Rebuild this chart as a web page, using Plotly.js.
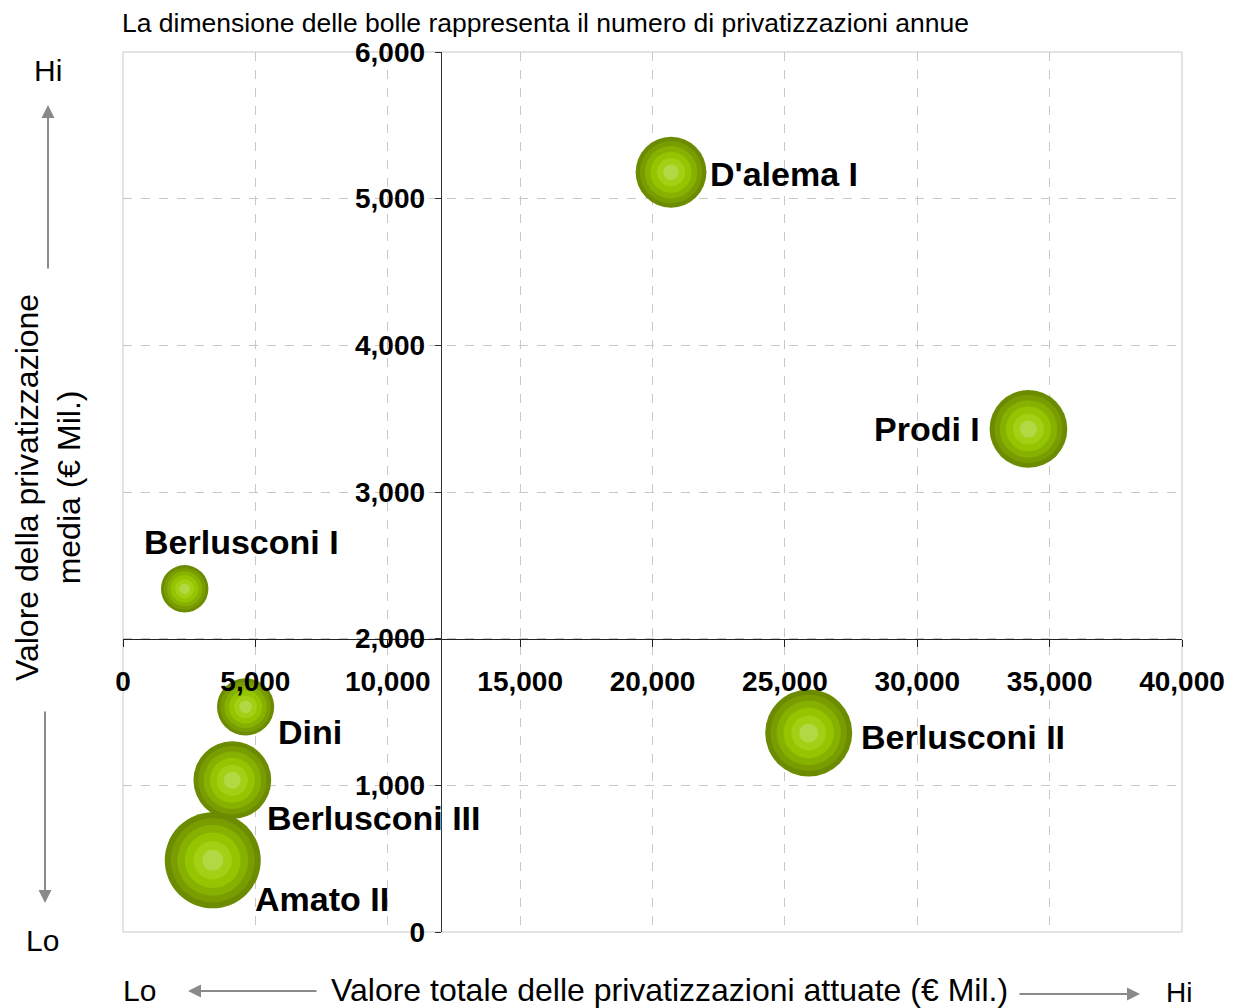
<!DOCTYPE html>
<html>
<head>
<meta charset="utf-8">
<script src="https://cdn.plot.ly/plotly-3.0.1.min.js"></script>
<style>html,body{margin:0;padding:0;background:#fff;}#chart{width:1235px;height:1008px;}</style>
</head>
<body>
<div id="chart"></div>
<script>
// ---- data ----
const governi = ["D'alema I", "Prodi I", "Berlusconi I", "Dini", "Berlusconi II", "Berlusconi III", "Amato II"];
const valoreTotale = [20700, 34200, 2330, 4630, 25900, 4130, 3390];      // € Mil.
const valoreMedio = [5180, 3430, 2340, 1535, 1357, 1035, 489];           // € Mil.
const privatizzazioniAnnue = [4.9, 5.9, 2.2, 3.2, 7.4, 5.9, 9.0];
const xTicks = [0, 5000, 10000, 15000, 20000, 25000, 30000, 35000, 40000];
const yTicks = [0, 1000, 2000, 3000, 4000, 5000, 6000];

// ---- presentation ----
const W = 1235, H = 1008;
const M = {l: 123, r: 53, t: 52, b: 76};
const PW = W - M.l - M.r, PH = H - M.t - M.b;
const px = x => (x - M.l) / PW;
const py = y => (H - M.b - y) / PH;

const layers = [
  {f: 1.00, c: '#6b8b00'},
  {f: 0.88, c: '#799d00'},
  {f: 0.74, c: '#87b100'},
  {f: 0.58, c: '#95c400'},
  {f: 0.40, c: '#a3cf14'},
  {f: 0.22, c: '#b2d944'}
];
const baseRef = 2 / 1024;
const traces = layers.map(L => ({
  type: 'scatter', mode: 'markers',
  x: valoreTotale, y: valoreMedio, text: governi,
  marker: {size: privatizzazioniAnnue, sizemode: 'area', sizeref: baseRef / (L.f * L.f),
           color: L.c, line: {width: 0}, opacity: 1},
  hoverinfo: 'text', showlegend: false
}));

// label offsets (px) relative to bubble centres
const labelPos = [
  {dx: 37, dy: -2, xa: 'left'},
  {dx: -46, dy: 0, xa: 'right'},
  {dx: -43, dy: 47, xa: 'left'},
  {dx: 30, dy: -25, xa: 'left'},
  {dx: 50, dy: -4, xa: 'left'},
  {dx: 33, dy: -38, xa: 'left'},
  {dx: 40, dy: -39, xa: 'left'}
];
const boldFont = {family: 'Liberation Sans, Arial, sans-serif', size: 34, color: '#000', weight: 700};
const annotations = governi.map((g, i) => ({
  x: valoreTotale[i], y: valoreMedio[i], xref: 'x', yref: 'y',
  text: '<b>' + g + '</b>', showarrow: false,
  xanchor: labelPos[i].xa, yanchor: 'middle',
  xshift: labelPos[i].dx, yshift: labelPos[i].dy,
  font: boldFont
}));

const axisTitleFont = {family: 'Liberation Sans, Arial, sans-serif', size: 32, color: '#000'};
const regular = {family: 'Liberation Sans, Arial, sans-serif', size: 30, color: '#000'};
const txt = (x, y, t, font, extra) => Object.assign({
  x: px(x), y: py(y), xref: 'paper', yref: 'paper', text: t, showarrow: false,
  xanchor: 'center', yanchor: 'middle', font: font
}, extra || {});
annotations.push(
  txt(48, 70, 'Hi', regular),
  txt(42, 940, 'Lo', regular),
  txt(139, 990, 'Lo', regular),
  txt(1179, 992, 'Hi', {family: 'Liberation Sans, Arial, sans-serif', size: 28, color: '#000'}),
  txt(669, 990, 'Valore totale delle privatizzazioni attuate (€ Mil.)', axisTitleFont),
  txt(48, 488, 'Valore della privatizzazione<br>media (€ Mil.)', axisTitleFont, {textangle: -90}),
  txt(120, 23, 'La dimensione delle bolle rappresenta il numero di privatizzazioni annue',
      {family: 'Liberation Sans, Arial, sans-serif', size: 26.5, color: '#000'}, {xanchor: 'left'})
);
const arrow = (hx, hy, ax, ay) => ({
  x: px(hx), y: py(hy), xref: 'paper', yref: 'paper', text: '', showarrow: true,
  ax: ax, ay: ay, arrowhead: 2, arrowsize: 1.3, arrowwidth: 2, arrowcolor: '#8a8a8a'
});
annotations.push(
  arrow(48, 105, 0, 165),
  arrow(45, 903, 0, -193),
  arrow(188, 991, 130, 0),
  arrow(1140, 994, -122, 0)
);

const tickFont = {family: 'Liberation Sans, Arial, sans-serif', size: 28, color: '#000', weight: 700};
const layout = {
  width: W, height: H, margin: M,
  paper_bgcolor: '#fff', plot_bgcolor: '#fff',
  xaxis: {range: [0, 40000], tickvals: xTicks, tickformat: ',d', anchor: 'free', position: 2000 / 6000,
          showline: true, linecolor: '#222', linewidth: 1.5, ticks: 'outside', ticklen: 7, tickcolor: '#222',
          tickfont: tickFont, ticklabelstandoff: 10, showgrid: true, gridcolor: '#c8c8c8', griddash: 'dash',
          zeroline: false, fixedrange: true},
  yaxis: {range: [0, 6000], tickvals: yTicks, tickformat: ',d', anchor: 'free', position: 12000 / 40000,
          showline: true, linecolor: '#333', linewidth: 1.5, ticks: 'outside', ticklen: 6, tickcolor: '#333',
          tickfont: tickFont, ticklabelstandoff: 4, showgrid: true, gridcolor: '#c8c8c8', griddash: 'dash',
          zeroline: false, fixedrange: true},
  shapes: [{type: 'rect', xref: 'paper', yref: 'paper', x0: 0, x1: 1, y0: 0, y1: 1,
            line: {color: '#c8c8c8', width: 1}, layer: 'below'}],
  annotations: annotations,
  showlegend: false
};
Plotly.newPlot('chart', traces, layout, {displayModeBar: false, staticPlot: true});
</script>
</body>
</html>
